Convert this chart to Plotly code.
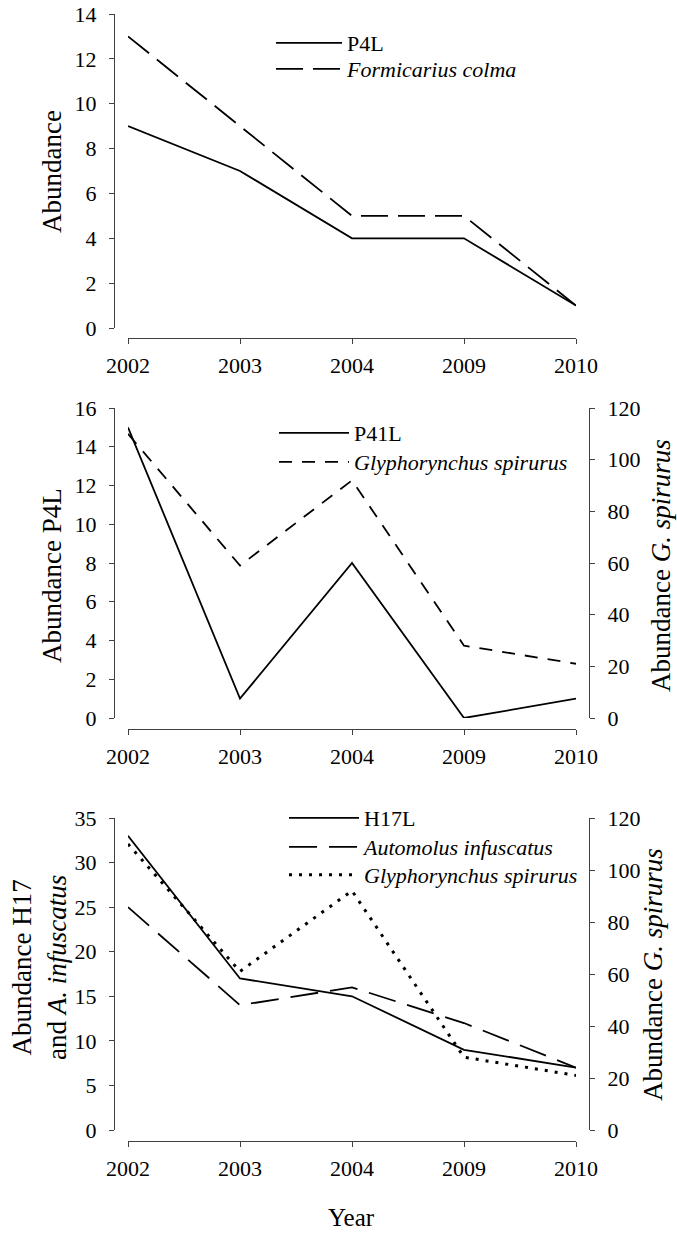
import plotly.graph_objects as go

W, H = 677, 1235
years = ["2002", "2003", "2004", "2009", "2010"]

# Panel 1
p4l = [9, 7, 4, 4, 1]
formicarius_colma = [13, 9, 5, 5, 1]
# Panel 2
p41l = [15, 1, 8, 0, 1]
glyph_spirurus_2 = [110, 59, 92, 28, 21]
# Panel 3
h17l = [33, 17, 15, 9, 7]
automolus_infuscatus = [25, 14, 16, 12, 7]
glyph_spirurus_3 = [110, 61, 92, 28, 21]

FONT = "Liberation Serif"
AXC = "#404040"

def px(x):
    return x / W

def py(y):
    return 1 - y / H

fig = go.Figure()

def line(width=1.8, dash="solid"):
    return dict(color="black", width=width, dash=dash)

fig.add_trace(go.Scatter(x=years, y=p4l, mode="lines", name="P4L", showlegend=True,
                         line=line(), xaxis="x", yaxis="y", legend="legend"))
fig.add_trace(go.Scatter(x=years, y=formicarius_colma, mode="lines", name="<i>Formicarius colma</i>",
                         line=line(dash="27px,10px"), xaxis="x", yaxis="y", legend="legend2"))

fig.add_trace(go.Scatter(x=years, y=p41l, mode="lines", name="P41L",
                         line=line(), xaxis="x2", yaxis="y2", legend="legend3"))
fig.add_trace(go.Scatter(x=years, y=glyph_spirurus_2, mode="lines", name="<i>Glyphorynchus spirurus</i>",
                         line=line(dash="13px,10px"), xaxis="x2", yaxis="y3", legend="legend4"))

fig.add_trace(go.Scatter(x=years, y=h17l, mode="lines", name="H17L",
                         line=line(), xaxis="x3", yaxis="y4", legend="legend5"))
fig.add_trace(go.Scatter(x=years, y=automolus_infuscatus, mode="lines", name="<i>Automolus infuscatus</i>",
                         line=line(dash="28px,12px"), xaxis="x3", yaxis="y4", legend="legend6"))
fig.add_trace(go.Scatter(x=years, y=glyph_spirurus_3, mode="lines", name="<i>Glyphorynchus spirurus</i>",
                         line=line(width=3, dash="3px,7px"), xaxis="x3", yaxis="y5", legend="legend7"))

tickfont = dict(family=FONT, size=22, color="black")

def xax(ybottom):
    return dict(type="category", range=[0, 4], domain=[px(128), px(576)],
                anchor="free", position=py(ybottom), showline=True, linecolor=AXC,
                linewidth=1, ticks="outside", ticklen=5, tickcolor=AXC,
                showgrid=False, zeroline=False, tickfont=tickfont,
                ticklabelstandoff=3, automargin=False)

def yax(dom, rng, dtick, side="left", pos=114, overlay=None):
    d = dict(range=rng, dtick=dtick, tick0=0, anchor="free", position=px(pos), side=side,
             showline=True, linecolor=AXC, linewidth=1, ticks="outside", ticklen=5,
             tickcolor=AXC, showgrid=False, zeroline=False, tickfont=tickfont,
             ticklabelstandoff=8, automargin=False)
    if overlay:
        d["overlaying"] = overlay
    else:
        d["domain"] = [py(dom[1]), py(dom[0])]
    return d

fig.update_layout(
    width=W, height=H, margin=dict(l=0, r=0, t=0, b=0),
    paper_bgcolor="white", plot_bgcolor="white", showlegend=True,
    font=dict(family=FONT, color="black"),
    xaxis=xax(338), xaxis2=xax(729), xaxis3=xax(1141),
    yaxis=yax((14, 328), [0, 14], 2),
    yaxis2=yax((408, 718), [0, 16], 2),
    yaxis3=yax(None, [0, 120], 20, side="right", pos=589, overlay="y2"),
    yaxis4=yax((818, 1130), [0, 35], 5),
    yaxis5=yax(None, [0, 120], 20, side="right", pos=589, overlay="y4"),
)

legfont = dict(family=FONT, size=22, color="black")
def leg(x, y, iw):
    return dict(x=px(x), y=py(y), xanchor="left", yanchor="middle", bgcolor="rgba(0,0,0,0)",
                font=legfont, itemwidth=iw, tracegroupgap=0, visible=True)

fig.update_layout(
    legend=leg(271, 43, 66), legend2=leg(271, 69, 66),
    legend3=leg(274, 433, 70), legend4=leg(274, 462, 70),
    legend5=leg(284, 818, 70), legend6=leg(284, 847, 70), legend7=leg(284, 875, 70),
)

tfont = dict(family=FONT, size=27, color="black")
ann = [
    dict(text="Abundance", x=px(52), y=py(172), textangle=-90),
    dict(text="Abundance P4L", x=px(52), y=py(576), textangle=-90),
    dict(text="Abundance <i>G. spirurus</i>", x=px(661), y=py(566), textangle=-90),
    dict(text="Abundance H17<br>and <i>A. infuscatus</i>", x=px(39), y=py(968), textangle=-90),
    dict(text="Abundance <i>G. spirurus</i>", x=px(653), y=py(975), textangle=-90),
    dict(text="Year", x=px(352), y=py(1217), textangle=0, font=dict(family=FONT, size=25, color="black")),
]
for a in ann:
    f = a.pop("font", tfont)
    fig.add_annotation(xref="paper", yref="paper", showarrow=False, font=f, borderpad=0,
                       xanchor="center", yanchor="middle", **a)

fig.write_html("out.html")
